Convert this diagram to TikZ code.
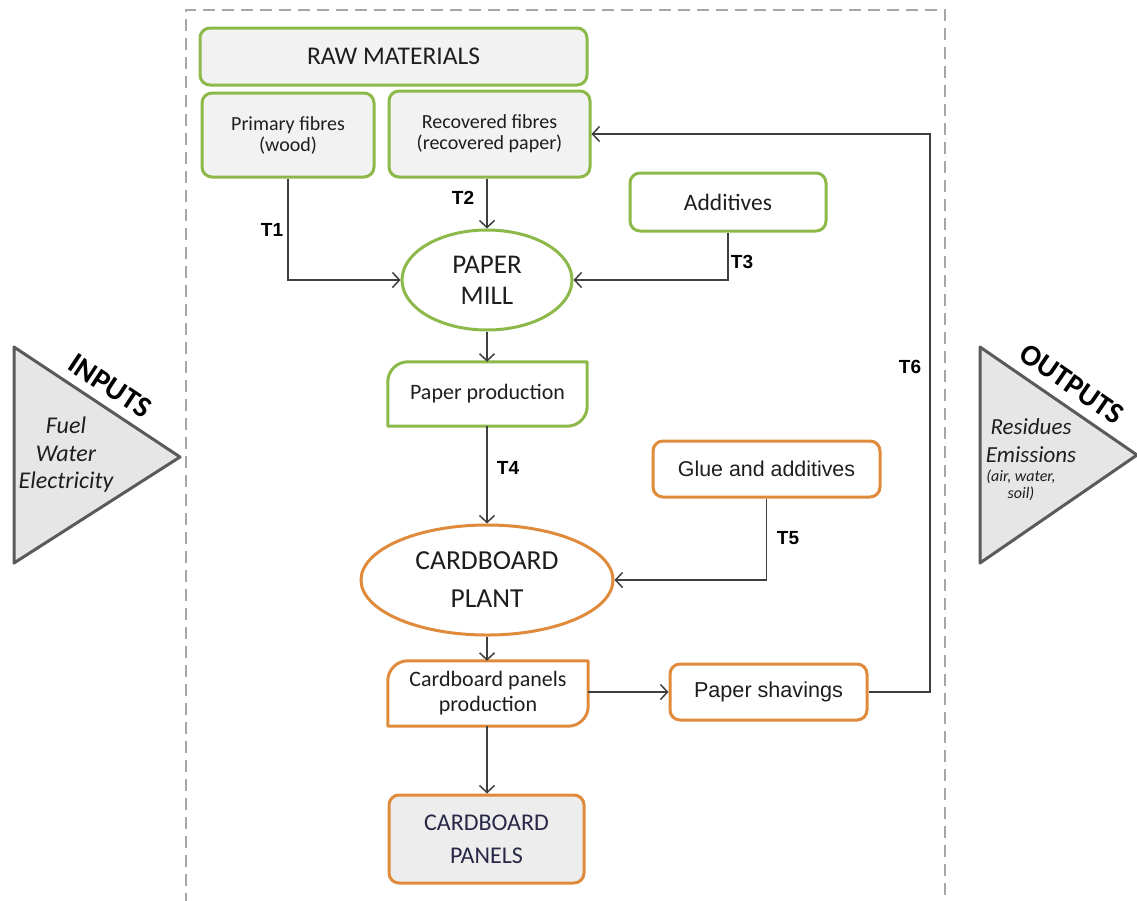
\documentclass[tikz,border=0pt]{standalone}
\usepackage{fontspec}
\setmainfont{Carlito}
\newfontfamily\arialf{Liberation Sans}
\usetikzlibrary{arrows.meta,calc,shapes.geometric}
\definecolor{grn}{HTML}{8DB84A}
\definecolor{org}{HTML}{E08A3C}
\definecolor{lnk}{HTML}{3F3F3F}
\definecolor{boxfill}{HTML}{F2F2F2}
\definecolor{panfill}{HTML}{EDEDED}
\definecolor{trifill}{HTML}{E6E6E6}
\definecolor{triedge}{HTML}{5A5A5A}
\definecolor{txt}{HTML}{1E1E1E}
\definecolor{frame}{HTML}{A6A6A6}
\tikzset{
  gbox/.style={draw=grn, line width=3pt, rounded corners=10pt, fill=boxfill, align=center, inner sep=0pt, text=txt},
  obox/.style={draw=org, line width=3pt, rounded corners=10pt, fill=white, align=center, inner sep=0pt, text=txt},
  plainbox/.style={align=center, inner sep=0pt, text=txt},
  link/.style={draw=lnk, line width=1.5pt, -{Straight Barb[length=7pt,width=15pt,line width=1.5pt]}},
  tlab/.style={font=\arialf\bfseries\fontsize{19}{22}\selectfont, text=black},
  tri/.style={draw=triedge, fill=trifill, line width=3pt, line join=round},
}
\begin{document}
\begin{tikzpicture}[x=1pt,y=-1pt]
\useasboundingbox (0,0) rectangle (1137,900);
% frame
\draw[frame, line width=1.8pt, dash pattern=on 12pt off 7pt] (186,905) -- (186,10) -- (945,10) -- (945,905);

% triangles
\draw[tri] (14,347) -- (180,457) -- (14,563) -- cycle;
\draw[tri] (980,347) -- (1137,455) -- (980,563) -- cycle;
\node[rotate=-33.5, font=\bfseries\fontsize{30}{30}\selectfont] (inlab) at (110,386) {INPUTS};
\node[rotate=-34.5, font=\bfseries\fontsize{30}{30}\selectfont] (outlab) at (1072,384) {OUTPUTS};
\node[align=center, font=\itshape\fontsize{24}{27.5}\selectfont, text=txt] (intext) at (66,455) {Fuel\\Water\\Electricity};
\node[align=center, font=\itshape\fontsize{23}{28}\selectfont, text=txt] (outtext1) at (1031,441) {Residues\\Emissions};
\node[align=center, font=\itshape\fontsize{16}{17}\selectfont, text=txt] (outtext2) at (1021,485) {(air, water,\\soil)};

% green part
\node[gbox, minimum width=387pt, minimum height=57pt, font=\fontsize{25.5}{28}\selectfont] (raw) at (393.5,56.5) {RAW MATERIALS};
\node[gbox, minimum width=172pt, minimum height=84pt, font=\fontsize{20}{21}\selectfont] (prim) at (288,135) {Primary fibres\\(wood)};
\node[gbox, minimum width=201pt, minimum height=86pt, font=\fontsize{20}{21}\selectfont] (rec) at (489.5,134) {Recovered fibres\\(recovered paper)};
\node[gbox, fill=white, minimum width=196pt, minimum height=58pt, font=\fontsize{23.5}{26}\selectfont] (add) at (728,202) {Additives};
\node[ellipse, draw=grn, line width=3pt, fill=white, minimum width=170pt, minimum height=100pt, inner sep=0pt, align=center, text=txt, font=\fontsize{27}{31}\selectfont] (mill) at (487,280) {PAPER\\MILL};
\node[plainbox, minimum width=199pt, minimum height=64pt, font=\fontsize{22}{24}\selectfont] (pp) at (487.5,394) {Paper production};
\draw[grn, line width=3pt, line join=round]
  (pp.south west) -- ($(pp.north west)+(0,20)$)
  .. controls ($(pp.north west)+(0,9)$) and ($(pp.north west)+(9,0)$) .. ($(pp.north west)+(20,0)$)
  -- (pp.north east) -- ($(pp.south east)+(0,-20)$)
  .. controls ($(pp.south east)+(0,-9)$) and ($(pp.south east)+(-9,0)$) .. ($(pp.south east)+(-20,0)$)
  -- cycle;

% orange part
\node[obox, minimum width=227pt, minimum height=56pt, font=\arialf\fontsize{21.4}{24}\selectfont] (glue) at (766.5,469) {Glue and additives};
\node[ellipse, draw=org, line width=3pt, fill=white, minimum width=252pt, minimum height=110pt, inner sep=0pt, align=center, text=txt, font=\fontsize{27.5}{38}\selectfont] (plant) at (487,580) {CARDBOARD\\PLANT};
\node[plainbox, minimum width=200pt, minimum height=65pt, font=\fontsize{22}{25}\selectfont] (cpp) at (488,693.5) {Cardboard panels\\production};
\draw[org, line width=3pt, line join=round]
  (cpp.south west) -- ($(cpp.north west)+(0,20)$)
  .. controls ($(cpp.north west)+(0,9)$) and ($(cpp.north west)+(9,0)$) .. ($(cpp.north west)+(20,0)$)
  -- (cpp.north east) -- ($(cpp.south east)+(0,-20)$)
  .. controls ($(cpp.south east)+(0,-9)$) and ($(cpp.south east)+(-9,0)$) .. ($(cpp.south east)+(-20,0)$)
  -- cycle;
\node[obox, minimum width=197pt, minimum height=56pt, font=\arialf\fontsize{21.6}{24}\selectfont] (shav) at (768.5,692) {Paper shavings};
\node[obox, fill=panfill, minimum width=195pt, minimum height=88pt, text={rgb,255:red,40;green,40;blue,70}, font=\fontsize{24}{33}\selectfont] (panels) at (486.5,839) {CARDBOARD\\PANELS};

% connectors
\draw[link] (prim.south) |- (mill.west);
\node[tlab] (t1) at (272,230) {T1};
\draw[link] (rec.south -| mill.north) -- (mill.north);
\node[tlab] (t2) at (463,198) {T2};
\draw[link] (add.south) |- (mill.east);
\node[tlab] (t3) at (742,262) {T3};
\draw[link] (mill.south) -- (pp.north -| mill.south);
\draw[link] (pp.south -| plant.north) -- (plant.north);
\node[tlab] (t4) at (508,468) {T4};
\draw[link] (glue.south) |- (plant.east);
\node[tlab] (t5) at (788,538) {T5};
\draw[link] (plant.south) -- (cpp.north -| plant.south);
\draw[link] (cpp.east |- shav.west) -- (shav.west);
\coordinate (t6c) at (930,692);
\draw[link] (shav.east) -- (t6c) |- (rec.east);
\node[tlab] (t6) at (910,367) {T6};
\draw[link] (cpp.south -| plant.south) -- (panels.north -| plant.south);
\end{tikzpicture}
\end{document}
